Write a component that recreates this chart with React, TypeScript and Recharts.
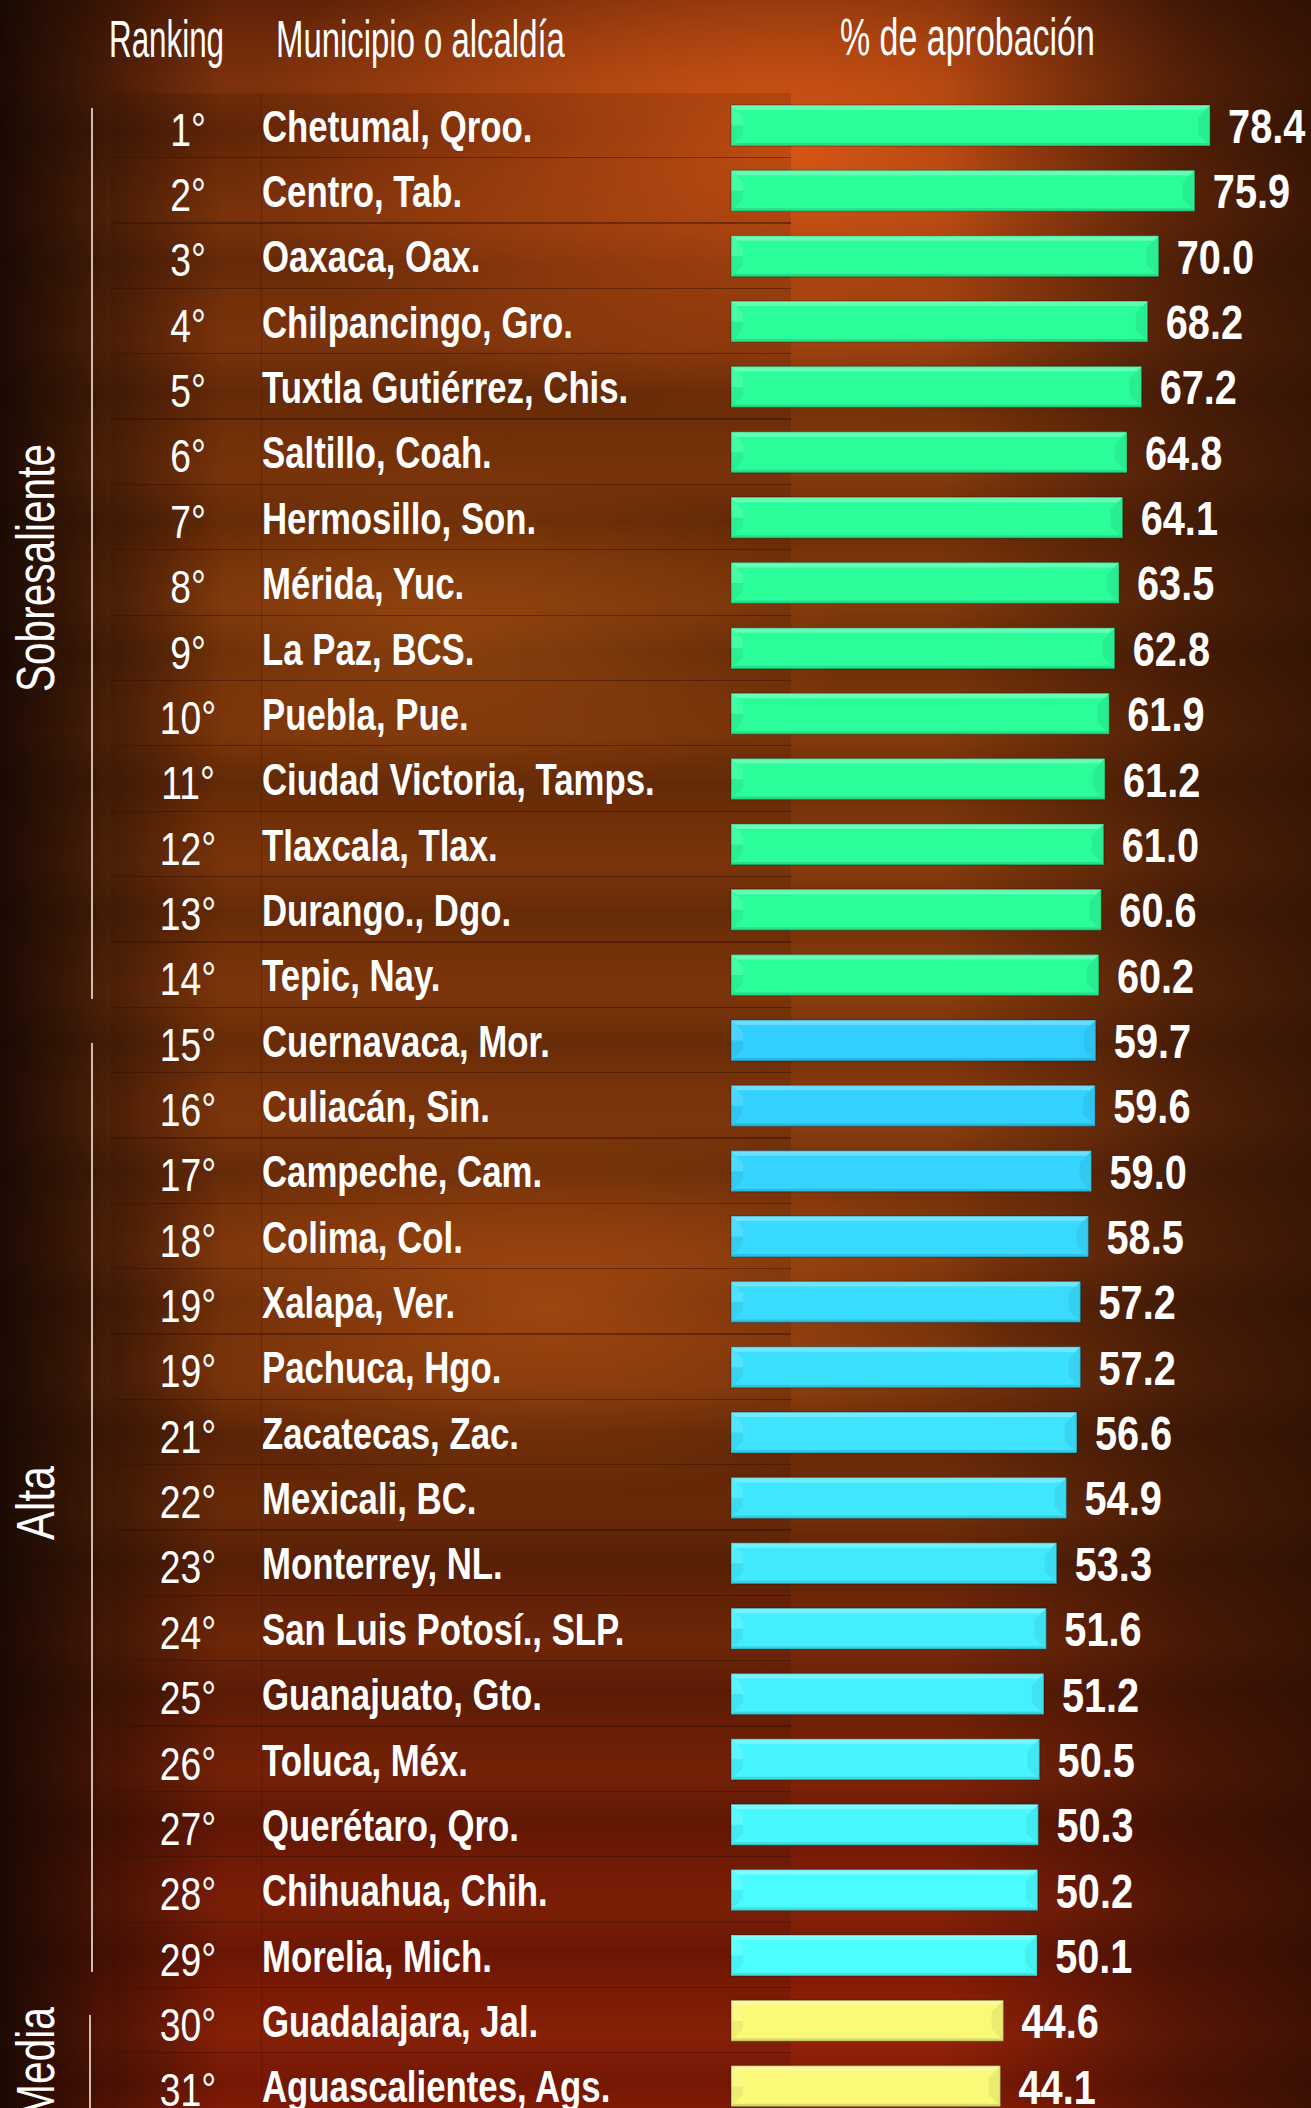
import React from 'react'
import { BarChart, Bar, XAxis, YAxis, LabelList } from 'recharts'

// Ranking de aprobación de presidentes municipales / alcaldes
const ranks = [
    '1°', '2°', '3°', '4°', '5°', '6°', '7°', '8°', '9°', '10°',
    '11°', '12°', '13°', '14°', '15°', '16°', '17°', '18°', '19°', '19°',
    '21°', '22°', '23°', '24°', '25°', '26°', '27°', '28°', '29°', '30°', '31°',
]

const municipios = [
    'Chetumal, Qroo.', 'Centro, Tab.', 'Oaxaca, Oax.', 'Chilpancingo, Gro.',
    'Tuxtla Gutiérrez, Chis.', 'Saltillo, Coah.', 'Hermosillo, Son.', 'Mérida, Yuc.',
    'La Paz, BCS.', 'Puebla, Pue.', 'Ciudad Victoria, Tamps.', 'Tlaxcala, Tlax.',
    'Durango., Dgo.', 'Tepic, Nay.', 'Cuernavaca, Mor.', 'Culiacán, Sin.',
    'Campeche, Cam.', 'Colima, Col.', 'Xalapa, Ver.', 'Pachuca, Hgo.',
    'Zacatecas, Zac.', 'Mexicali, BC.', 'Monterrey, NL.', 'San Luis Potosí., SLP.',
    'Guanajuato, Gto.', 'Toluca, Méx.', 'Querétaro, Qro.', 'Chihuahua, Chih.',
    'Morelia, Mich.', 'Guadalajara, Jal.', 'Aguascalientes, Ags.',
]

const aprobacion = [
    78.4, 75.9, 70.0, 68.2, 67.2, 64.8, 64.1, 63.5, 62.8, 61.9,
    61.2, 61.0, 60.6, 60.2, 59.7, 59.6, 59.0, 58.5, 57.2, 57.2,
    56.6, 54.9, 53.3, 51.6, 51.2, 50.5, 50.3, 50.2, 50.1, 44.6, 44.1,
]

const groupNames = ['Sobresaliente', 'Alta', 'Media']
const groupSizes = [14, 15, 2]

const headers = ['Ranking', 'Municipio o alcaldía', '% de aprobación']

const rows = municipios.map((name, i) => ({ name, rank: ranks[i], value: aprobacion[i] }))

const W = 1311
const H = 2108
// no narrow font installed: Arial-metric font squeezed horizontally
const SANS = "'Liberation Sans', Arial, sans-serif"
const SQUEEZE = 0.81

function groupOf(index: number) {
    let start = 0
    for (let g = 0; g < groupSizes.length; g++) {
        if (index < start + groupSizes[g]) return { g, pos: index - start, size: groupSizes[g] }
        start += groupSizes[g]
    }
    return { g: groupSizes.length - 1, pos: 0, size: 1 }
}

function mix(a: number[], b: number[], t: number) {
    const c = a.map((v, k) => Math.round(v + (b[k] - v) * t))
    return `rgb(${c[0]},${c[1]},${c[2]})`
}

function barColor(index: number) {
    const { g, pos, size } = groupOf(index)
    if (g === 0) return '#2bfd9b'
    if (g === 1) return mix([50, 206, 255], [76, 255, 255], size > 1 ? pos / (size - 1) : 0)
    return '#fafa78'
}

function BevelBar(props: any) {
    const { x, y, width: w, height: h, index } = props
    if (!w || w <= 0) return null
    const c = barColor(index)
    const b = 12
    const t = 5
    return (
        <g>
            <rect x={x} y={y} width={w} height={h} fill={c} />
            <polygon points={`${x},${y} ${x + w},${y} ${x + w - t},${y + t} ${x + t},${y + t}`} fill='#ffffff' fillOpacity={0.28} />
            <polygon points={`${x},${y} ${x + b},${y + b} ${x + b},${y + h / 2} ${x},${y + h / 2}`} fill='#ffffff' fillOpacity={0.12} />
            <polygon points={`${x},${y + h / 2} ${x + b},${y + h / 2} ${x + b},${y + h - b} ${x},${y + h}`} fill='#000000' fillOpacity={0.05} />
            <polygon points={`${x + w},${y} ${x + w - b},${y + b} ${x + w - b},${y + h - b} ${x + w},${y + h}`} fill='#000000' fillOpacity={0.06} />
            <polygon points={`${x},${y + h} ${x + w},${y + h} ${x + w - 3},${y + h - 3} ${x + 3},${y + h - 3}`} fill='#000000' fillOpacity={0.12} />
            <rect x={x} y={y} width={w} height={h} fill='none' stroke='#000000' strokeOpacity={0.22} strokeWidth={1.5} />
        </g>
    )
}

function NarrowText({ x, y, size, bold, anchor, sx = SQUEEZE, children }: any) {
    return (
        <text
            transform={`translate(${x}, ${y}) scale(${sx}, 1)`}
            textAnchor={anchor || 'start'}
            fill='#ffffff'
            fontFamily={SANS}
            fontWeight={bold ? 'bold' : 'normal'}
            fontSize={size}
        >
            {children}
        </text>
    )
}

function ValueLabel(props: any) {
    const { x, y, width, height, value } = props
    return (
        <NarrowText x={Number(x) + Number(width) + 18} y={Number(y) + Number(height) / 2 + 17.5} size={49} bold>
            {Number(value).toFixed(1)}
        </NarrowText>
    )
}

function RowTick(props: any) {
    const { y, payload } = props
    const i = payload.index
    return (
        <g>
            <NarrowText x={188} y={y + 20} size={46} anchor='middle'>{ranks[i]}</NarrowText>
            <NarrowText x={262} y={y + 16} size={44} bold sx={0.79}>{payload.value}</NarrowText>
        </g>
    )
}

const background = [
    'linear-gradient(90deg, rgba(22,8,3,0.95) 0%, rgba(22,8,3,0.7) 5%, rgba(22,8,3,0) 17%, rgba(0,0,0,0) 72%, rgba(35,12,3,0.55) 90%, rgba(35,12,3,0.75) 100%)',
    'radial-gradient(ellipse 42% 13% at 60% 7%, rgba(220,88,22,0.95), rgba(220,88,22,0) 100%)',
    'radial-gradient(ellipse 35% 9% at 42% 62%, rgba(200,92,22,0.75), rgba(200,92,22,0) 100%)',
    'radial-gradient(ellipse 30% 8% at 35% 30%, rgba(200,100,25,0.5), rgba(200,100,25,0) 100%)',
    'repeating-linear-gradient(180deg, rgba(0,0,0,0.14) 0px, rgba(0,0,0,0) 45px, rgba(255,130,50,0.06) 85px, rgba(0,0,0,0.12) 130px)',
    'linear-gradient(180deg, #6e2808 0%, #82360c 12%, #7a3409 30%, #85390c 52%, #6a2a08 72%, #7c1c06 88%, #961e06 100%)',
].join(', ')

export default function App() {
    // column headers (x, baseline, horizontal squeeze)
    const headerPos = [
        { x: 109, y: 57, sx: 0.615 },
        { x: 276, y: 57, sx: 0.645 },
        { x: 840, y: 55, sx: 0.666 },
    ]
    // group bracket lines and labels
    const groupLines = [
        { y1: 108, y2: 999, x: 92 },
        { y1: 1043, y2: 1972, x: 92 },
        { y1: 2015, y2: H, x: 90 },
    ]
    const groupText = [
        { y: 568, len: 248, anchor: 'middle' },
        { y: 1503, len: 74, anchor: 'middle' },
        { y: 2007, len: 111, anchor: 'end' },
    ]
    return (
        <div style={{ position: 'absolute', left: 0, top: 0, width: W, height: H, overflow: 'hidden', background }}>
            {/* table backdrop */}
            <div style={{
                position: 'absolute', left: 111, top: 93, width: 680, height: H,
                background: 'repeating-linear-gradient(180deg, rgba(0,0,0,0) 0px, rgba(0,0,0,0) 64.1px, rgba(55,16,3,0.5) 64.1px, rgba(55,16,3,0.5) 65.35px)',
                backgroundColor: 'rgba(40,12,2,0.14)',
            }} />
            <div style={{ position: 'absolute', left: 261, top: 93, width: 1, height: H, background: 'rgba(55,16,3,0.3)' }} />
            <div style={{ position: 'absolute', left: 0, top: 0 }}>
                <BarChart
                    layout='vertical'
                    width={W}
                    height={2119}
                    data={rows}
                    margin={{ top: 93, right: 30, bottom: 0, left: 0 }}
                    barSize={41}
                >
                    <XAxis type='number' domain={[0, 90]} hide />
                    <YAxis
                        type='category'
                        dataKey='name'
                        width={731}
                        axisLine={false}
                        tickLine={false}
                        interval={0}
                        tick={<RowTick />}
                    />
                    <Bar dataKey='value' isAnimationActive={false} shape={(p: any) => <BevelBar {...p} />}>
                        <LabelList dataKey='value' content={<ValueLabel />} />
                    </Bar>
                </BarChart>
            </div>
            <svg width={W} height={H} style={{ position: 'absolute', left: 0, top: 0, pointerEvents: 'none' }}>
                {headers.map((t, i) => (
                    <NarrowText key={`h-${i}`} x={headerPos[i].x} y={headerPos[i].y} size={51} sx={headerPos[i].sx}>{t}</NarrowText>
                ))}
                {groupLines.map((l, i) => (
                    <line key={`gl-${i}`} x1={l.x} x2={l.x} y1={l.y1} y2={l.y2} stroke='#f4e6dc' strokeWidth={1.6} />
                ))}
                {groupNames.map((g, i) => (
                    <text
                        key={`gt-${i}`}
                        transform={`translate(54, ${groupText[i].y}) rotate(-90)`}
                        textAnchor={groupText[i].anchor as any}
                        textLength={groupText[i].len}
                        lengthAdjust='spacingAndGlyphs'
                        fill='#ffffff'
                        fontFamily={SANS}
                        fontSize={53}
                    >
                        {g}
                    </text>
                ))}
            </svg>
        </div>
    )
}
